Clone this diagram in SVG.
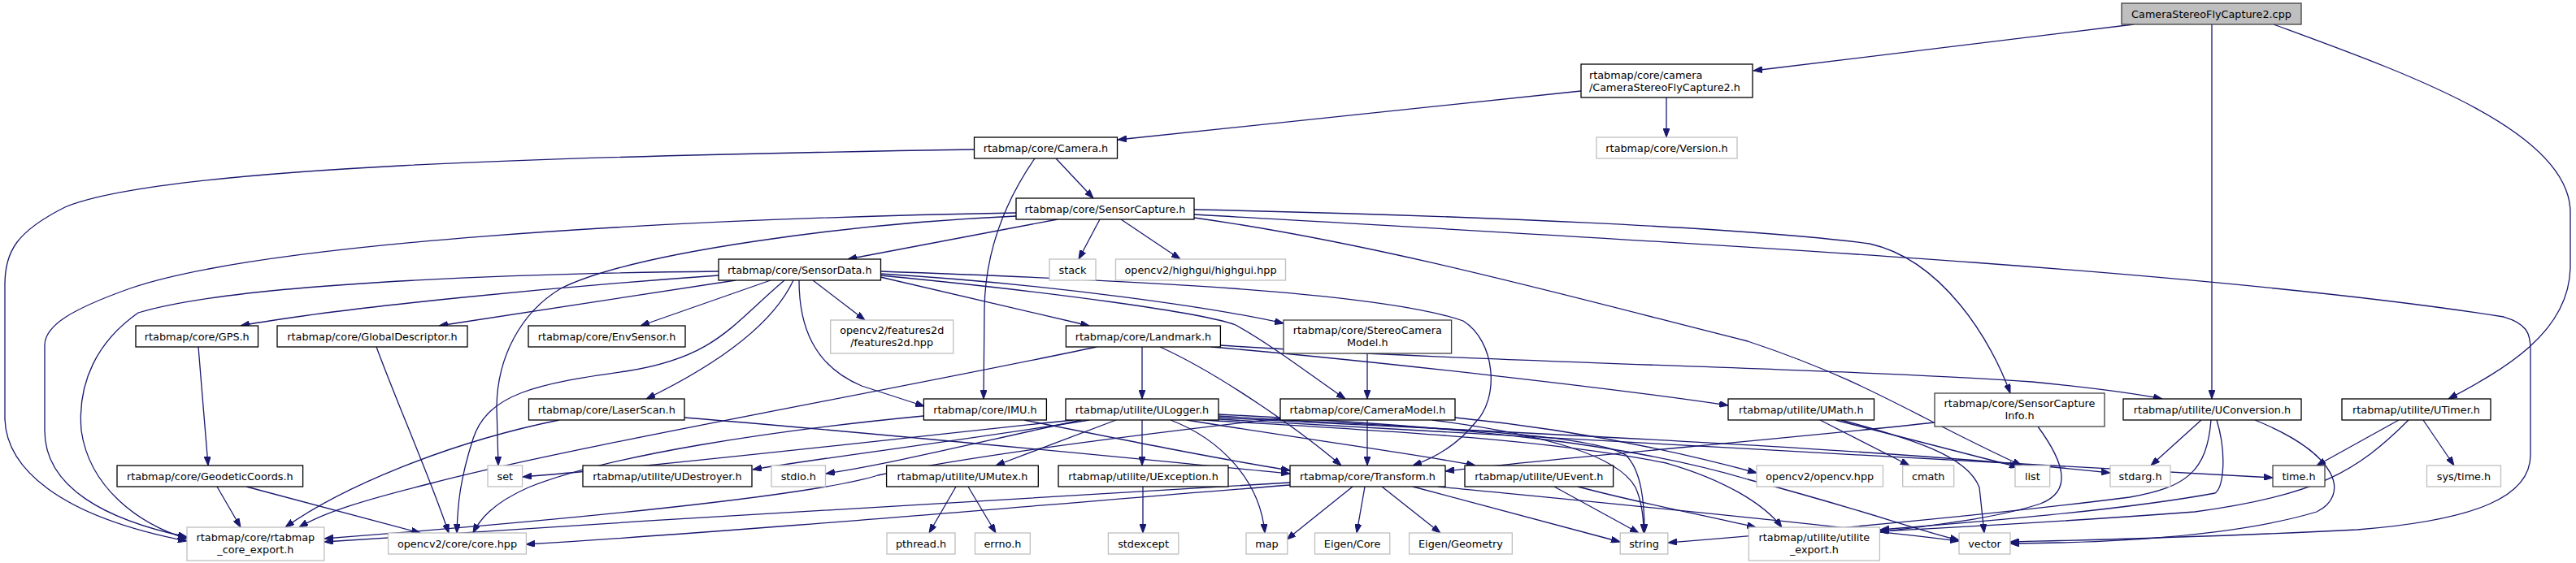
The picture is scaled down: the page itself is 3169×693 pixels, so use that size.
<svg xmlns="http://www.w3.org/2000/svg" width="3169" height="693" viewBox="0 0 3169 693">
<defs>
<style>
.n rect{fill:#ffffff;stroke:#000000;stroke-width:1.3}
.d rect{fill:#ffffff;stroke:#404040;stroke-width:1.3}
.l rect{fill:#ffffff;stroke:#bfbfbf;stroke-width:1.3}
.r rect{fill:#bfbfbf;stroke:#404040;stroke-width:1.3}
text{font-family:"DejaVu Sans","Liberation Sans",sans-serif;font-size:12.8px;fill:#000000;text-anchor:middle}
#edges path{fill:none;stroke:#191970;stroke-width:1.3;marker-end:url(#ah)}
</style>
<marker id="ah" markerUnits="userSpaceOnUse" markerWidth="11" markerHeight="8" refX="11" refY="4" orient="auto">
<path d="M0,0 L11,4 L0,8 z" fill="#191970" stroke="#191970" stroke-width="1"/>
</marker>
</defs>
<rect x="0" y="0" width="3169" height="693" fill="#ffffff"/>
<g id="edges">
<path d="M2625,30 L2157,87"/>
<path d="M2721,30 L2721,491"/>
<path d="M2797,30 C2960,90 3160,160 3162,260 L3162,330 C3160,410 3080,455 3012,491"/>
<path d="M1945,112 L1375,172"/>
<path d="M2050,120 L2050,169"/>
<path d="M1198,184 C700,192 200,205 80,255 C20,285 6,310 6,350 L6,516 C8,575 70,635 230,666"/>
<path d="M1299,195 L1345,244"/>
<path d="M1273,195 C1235,250 1212,310 1211,380 L1210,491"/>
<path d="M1250,262 C800,270 320,300 160,355 C90,380 55,400 55,425 L55,530 C55,600 130,640 230,661"/>
<path d="M1250,266 C1050,275 780,310 690,355 C640,385 612,440 611,500 L613,573"/>
<path d="M1301,270 L1043,319"/>
<path d="M1353,270 L1327,319"/>
<path d="M1379,270 L1452,319"/>
<path d="M1469,258 C1800,265 2150,280 2300,300 C2390,320 2450,420 2473,484"/>
<path d="M1469,264 C2000,295 2700,330 3080,390 C3108,398 3113,410 3113,430 L3113,560 C3113,610 3050,640 2900,652 C2700,662 2550,665 2473,667"/>
<path d="M1469,268 C1700,300 1950,370 2150,420 C2300,470 2350,510 2487,573"/>
<path d="M884,334 C700,336 300,345 170,385 C120,420 95,470 100,530 C110,600 170,645 230,663"/>
<path d="M884,339 C700,352 420,378 296,401"/>
<path d="M905,345 L540,401"/>
<path d="M948,345 L788,401"/>
<path d="M976,345 C955,390 900,440 795,491"/>
<path d="M965,345 C900,400 880,440 770,457 C660,472 600,485 582,540 C566,590 563,620 562,656"/>
<path d="M983,345 C983,400 1000,450 1060,475 L1137,500"/>
<path d="M1000,345 L1064,394"/>
<path d="M1083,341 L1340,401"/>
<path d="M1083,337 C1300,350 1500,380 1579,398"/>
<path d="M1083,339 C1300,360 1480,385 1520,400 C1565,425 1610,460 1655,491"/>
<path d="M1083,334 C1400,345 1700,360 1800,395 C1840,420 1845,490 1815,520 C1795,545 1770,562 1738,573"/>
<path d="M244,427 L256,573"/>
<path d="M267,599 L296,649"/>
<path d="M303,599 L517,656"/>
<path d="M463,427 C490,500 530,590 552,656"/>
<path d="M688,517 C550,545 420,600 351,649"/>
<path d="M842,514 C1100,535 1400,565 1587,583"/>
<path d="M1349,427 C1100,480 700,550 530,595 C450,615 400,630 368,649"/>
<path d="M1405,427 L1405,491"/>
<path d="M1427,427 C1500,460 1600,530 1650,573"/>
<path d="M1490,427 C1700,445 2000,480 2126,499"/>
<path d="M1501,425 C1800,445 2300,455 2500,470 C2580,478 2630,485 2660,491"/>
<path d="M1682,435 L1682,491"/>
<path d="M1136,512 C950,530 750,560 650,600 C605,620 590,640 582,656"/>
<path d="M1260,517 C1400,545 1500,565 1587,579"/>
<path d="M1480,517 C1700,530 1900,540 2050,570 C2120,590 2170,620 2192,649"/>
<path d="M1373,517 L1225,573"/>
<path d="M1340,517 C1200,540 1000,565 926,578"/>
<path d="M1330,517 C1200,545 1100,570 1016,583"/>
<path d="M1320,517 C1100,540 800,575 643,587"/>
<path d="M1460,517 C1600,540 1750,560 1815,573"/>
<path d="M1405,517 L1405,573"/>
<path d="M1499,514 C1800,530 2300,550 2596,582"/>
<path d="M1499,516 C1900,540 2400,565 2796,588"/>
<path d="M1499,512 C1700,525 1950,530 2000,560 C2020,580 2023,620 2023,656"/>
<path d="M1499,510 C1800,525 2000,545 2150,590 C2300,630 2350,650 2410,665"/>
<path d="M1440,517 C1500,540 1550,590 1556,656"/>
<path d="M1682,517 L1682,573"/>
<path d="M1790,514 C1950,530 2080,560 2161,582"/>
<path d="M1762,517 C1900,535 1990,560 2012,600 C2021,620 2022,640 2022,656"/>
<path d="M1575,515 C1400,535 1200,560 1080,585 C1000,610 700,640 399,663"/>
<path d="M1587,594 C1300,610 800,640 399,667"/>
<path d="M1587,597 C1300,620 900,655 647,670"/>
<path d="M1664,599 L1583,664"/>
<path d="M1679,599 L1669,656"/>
<path d="M1700,599 L1772,656"/>
<path d="M1738,599 L1993,667"/>
<path d="M1769,599 C1900,612 2200,640 2410,666"/>
<path d="M1912,599 L2016,656"/>
<path d="M1941,599 C2020,620 2100,635 2160,649"/>
<path d="M1176,599 L1143,656"/>
<path d="M1191,599 L1225,656"/>
<path d="M1406,599 L1406,656"/>
<path d="M2239,517 L2349,573"/>
<path d="M2258,517 L2483,575"/>
<path d="M2265,517 C2350,540 2420,560 2435,600 L2441,656"/>
<path d="M2507,525 C2540,570 2550,605 2510,620 C2450,640 2360,648 2313,655"/>
<path d="M2380,520 C2200,540 1900,565 1778,580"/>
<path d="M2708,517 L2646,573"/>
<path d="M2720,517 C2715,580 2690,600 2620,612 C2400,640 2150,660 2052,668"/>
<path d="M2727,517 C2740,560 2735,600 2725,607 C2600,630 2400,645 2313,652"/>
<path d="M2774,517 C2880,560 2890,610 2850,630 C2750,660 2600,668 2473,669"/>
<path d="M2951,517 L2850,573"/>
<path d="M2963,517 C2900,580 2850,610 2700,630 C2500,645 2380,650 2313,654"/>
<path d="M2981,517 L3019,573"/>
</g>
<g id="cpp" class="r"><rect x="2610" y="4" width="221" height="26"/><text x="2720.5" y="21.5">CameraStereoFlyCapture2.cpp</text></g>
<g id="csfc2h" class="n"><rect x="1945" y="79" width="211" height="41"/><text x="1955" y="96.5" style="text-anchor:start">rtabmap/core/camera</text><text x="1955" y="111.5" style="text-anchor:start">/CameraStereoFlyCapture2.h</text></g>
<g id="camera" class="n"><rect x="1198.5" y="169" width="176" height="26"/><text x="1286.5" y="186.5">rtabmap/core/Camera.h</text></g>
<g id="version" class="l"><rect x="1964" y="169" width="173" height="26"/><text x="2050.5" y="186.5">rtabmap/core/Version.h</text></g>
<g id="sensorcapture" class="n"><rect x="1250" y="244" width="219" height="26"/><text x="1359.5" y="261.5">rtabmap/core/SensorCapture.h</text></g>
<g id="sensordata" class="n"><rect x="884" y="319" width="199.5" height="26"/><text x="983.75" y="336.5">rtabmap/core/SensorData.h</text></g>
<g id="stack" class="l"><rect x="1291" y="319" width="57" height="26"/><text x="1319.5" y="336.5">stack</text></g>
<g id="highgui" class="l"><rect x="1372.5" y="319" width="209" height="26"/><text x="1477" y="336.5">opencv2/highgui/highgui.hpp</text></g>
<g id="gps" class="n"><rect x="167" y="401" width="150.5" height="26"/><text x="242.25" y="418.5">rtabmap/core/GPS.h</text></g>
<g id="globaldesc" class="n"><rect x="341" y="401" width="234" height="26"/><text x="458" y="418.5">rtabmap/core/GlobalDescriptor.h</text></g>
<g id="envsensor" class="n"><rect x="650" y="401" width="193" height="26"/><text x="746.5" y="418.5">rtabmap/core/EnvSensor.h</text></g>
<g id="features2d" class="l"><rect x="1021.7" y="394" width="151" height="41"/><text x="1097.2" y="411">opencv2/features2d</text><text x="1097.2" y="426">/features2d.hpp</text></g>
<g id="landmark" class="n"><rect x="1311.4" y="401" width="190" height="26"/><text x="1406.4" y="418.5">rtabmap/core/Landmark.h</text></g>
<g id="stereocam" class="d"><rect x="1579" y="394" width="206.6" height="41"/><text x="1682.3" y="411">rtabmap/core/StereoCamera</text><text x="1682.3" y="426">Model.h</text></g>
<g id="laserscan" class="n"><rect x="650.5" y="491" width="191.5" height="26"/><text x="746.25" y="508.5">rtabmap/core/LaserScan.h</text></g>
<g id="imu" class="n"><rect x="1136.4" y="491" width="151" height="26"/><text x="1211.9" y="508.5">rtabmap/core/IMU.h</text></g>
<g id="ulogger" class="n"><rect x="1311" y="491" width="188" height="26"/><text x="1405" y="508.5">rtabmap/utilite/ULogger.h</text></g>
<g id="cameramodel" class="n"><rect x="1575" y="491" width="215" height="26"/><text x="1682.5" y="508.5">rtabmap/core/CameraModel.h</text></g>
<g id="umath" class="n"><rect x="2126" y="491" width="179.5" height="26"/><text x="2215.75" y="508.5">rtabmap/utilite/UMath.h</text></g>
<g id="sensorcaptureinfo" class="d"><rect x="2380" y="484" width="209" height="41"/><text x="2484.5" y="501">rtabmap/core/SensorCapture</text><text x="2484.5" y="516">Info.h</text></g>
<g id="uconversion" class="n"><rect x="2612" y="491" width="219" height="26"/><text x="2721.5" y="508.5">rtabmap/utilite/UConversion.h</text></g>
<g id="utimer" class="n"><rect x="2881" y="491" width="183" height="26"/><text x="2972.5" y="508.5">rtabmap/utilite/UTimer.h</text></g>
<g id="geodetic" class="n"><rect x="144" y="573" width="228.6" height="26"/><text x="258.3" y="590.5">rtabmap/core/GeodeticCoords.h</text></g>
<g id="set" class="l"><rect x="600" y="573" width="42.6" height="26"/><text x="621.3" y="590.5">set</text></g>
<g id="udestroyer" class="n"><rect x="717" y="573" width="208" height="26"/><text x="821" y="590.5">rtabmap/utilite/UDestroyer.h</text></g>
<g id="stdio" class="l"><rect x="949" y="573" width="66.5" height="26"/><text x="982.25" y="590.5">stdio.h</text></g>
<g id="umutex" class="n"><rect x="1090.6" y="573" width="186.7" height="26"/><text x="1183.95" y="590.5">rtabmap/utilite/UMutex.h</text></g>
<g id="uexception" class="n"><rect x="1302" y="573" width="209" height="26"/><text x="1406.5" y="590.5">rtabmap/utilite/UException.h</text></g>
<g id="transform" class="n"><rect x="1587" y="573" width="191" height="26"/><text x="1682.5" y="590.5">rtabmap/core/Transform.h</text></g>
<g id="uevent" class="n"><rect x="1802" y="573" width="182.6" height="26"/><text x="1893.3" y="590.5">rtabmap/utilite/UEvent.h</text></g>
<g id="opencvhpp" class="l"><rect x="2161" y="573" width="155.5" height="26"/><text x="2238.75" y="590.5">opencv2/opencv.hpp</text></g>
<g id="cmath" class="l"><rect x="2340.7" y="573" width="63" height="26"/><text x="2372.2" y="590.5">cmath</text></g>
<g id="list" class="l"><rect x="2479" y="573" width="42.7" height="26"/><text x="2500.35" y="590.5">list</text></g>
<g id="stdarg" class="l"><rect x="2596" y="573" width="74" height="26"/><text x="2633" y="590.5">stdarg.h</text></g>
<g id="timeh" class="d"><rect x="2796" y="573" width="64" height="26"/><text x="2828" y="590.5">time.h</text></g>
<g id="systime" class="l"><rect x="2985.5" y="573" width="91" height="26"/><text x="3031" y="590.5">sys/time.h</text></g>
<g id="export" class="l"><rect x="230" y="649" width="168.8" height="41"/><text x="314.4" y="666">rtabmap/core/rtabmap</text><text x="314.4" y="681">_core_export.h</text></g>
<g id="corehpp" class="l"><rect x="477.6" y="656" width="169.8" height="26"/><text x="562.5" y="673.5">opencv2/core/core.hpp</text></g>
<g id="pthread" class="l"><rect x="1091" y="656" width="84" height="26"/><text x="1133" y="673.5">pthread.h</text></g>
<g id="errno" class="l"><rect x="1199.5" y="656" width="67.8" height="26"/><text x="1233.4" y="673.5">errno.h</text></g>
<g id="stdexcept" class="l"><rect x="1363.4" y="656" width="86.4" height="26"/><text x="1406.6" y="673.5">stdexcept</text></g>
<g id="map" class="l"><rect x="1533" y="656" width="50.8" height="26"/><text x="1558.4" y="673.5">map</text></g>
<g id="eigencore" class="l"><rect x="1617.5" y="656" width="92.3" height="26"/><text x="1663.65" y="673.5">Eigen/Core</text></g>
<g id="eigengeom" class="l"><rect x="1733.6" y="656" width="126.7" height="26"/><text x="1796.95" y="673.5">Eigen/Geometry</text></g>
<g id="string" class="l"><rect x="1993.2" y="656" width="58.6" height="26"/><text x="2022.5" y="673.5">string</text></g>
<g id="utilexport" class="l"><rect x="2151.4" y="649" width="161" height="41"/><text x="2231.9" y="666">rtabmap/utilite/utilite</text><text x="2231.9" y="681">_export.h</text></g>
<g id="vector" class="l"><rect x="2410" y="656" width="63" height="26"/><text x="2441.5" y="673.5">vector</text></g>
</svg>
